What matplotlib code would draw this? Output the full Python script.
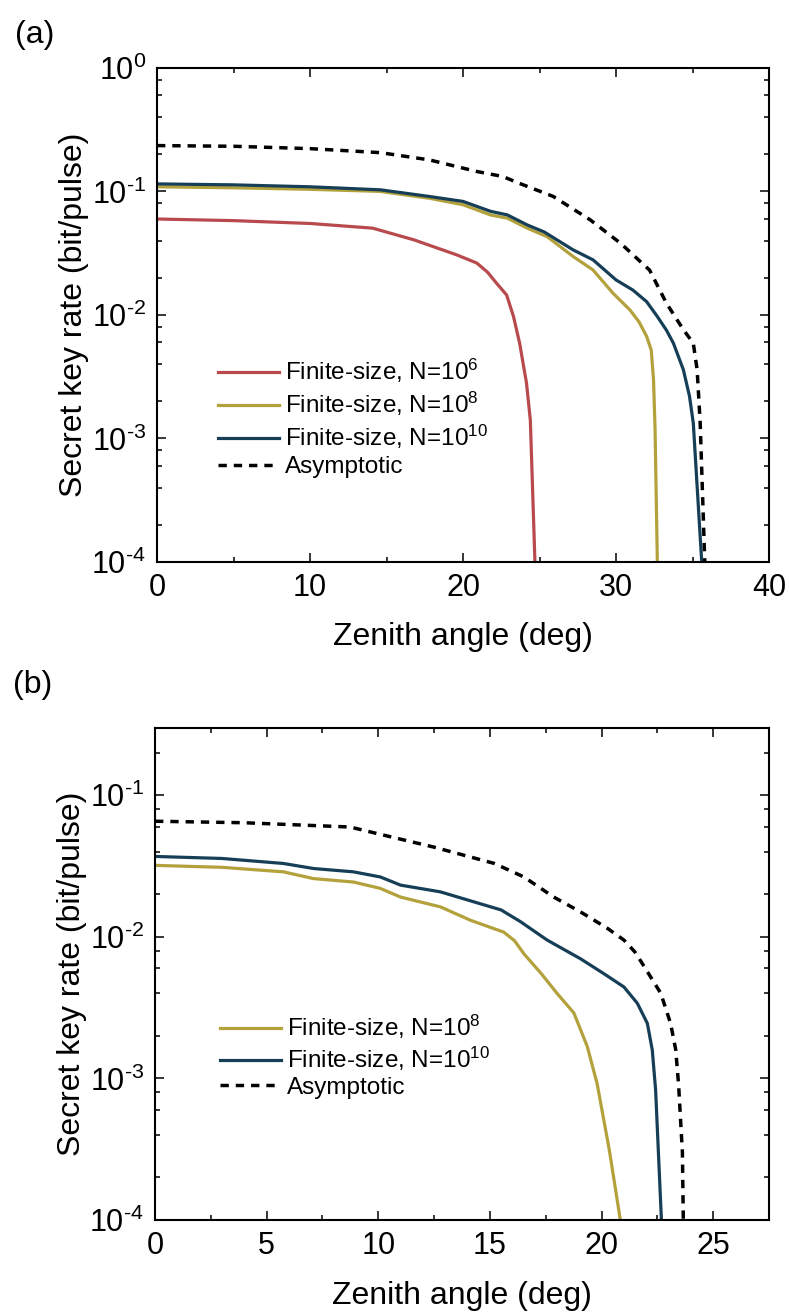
import matplotlib
matplotlib.use("Agg")
import numpy as np
import matplotlib.pyplot as plt
from matplotlib.ticker import LogLocator, MultipleLocator, NullFormatter, FuncFormatter

plt.rcParams['font.family'] = ['Liberation Sans', 'DejaVu Sans']
plt.rcParams['mathtext.fontset'] = 'custom'
plt.rcParams['mathtext.rm'] = 'Liberation Sans'
plt.rcParams['mathtext.it'] = 'Liberation Sans:italic'

# panel (a): key rate vs zenith angle
asym_a_x = [0, 5, 10, 14.6, 17.8, 20.9, 22.6, 23.7, 25.9, 28.3, 30.3, 32.2, 33.3, 34.4, 35.05, 35.3, 35.4, 35.5, 35.8]
asym_a_y = [0.235, 0.232, 0.222, 0.206, 0.18, 0.145, 0.132, 0.116, 0.091, 0.059, 0.038, 0.023, 0.0124, 0.0076,
            0.0059, 0.0036, 0.0022, 0.00133, 1e-4]
n10_a_x = [0, 5, 10, 14.6, 17.8, 20.0, 21.8, 22.9, 24.2, 25.3, 27.2, 28.5, 30.0, 31.1, 32.0, 32.7, 33.3, 33.75,
           34.4, 34.8, 35.05, 35.6]
n10_a_y = [0.115, 0.113, 0.109, 0.103, 0.091, 0.083, 0.069, 0.0645, 0.0535, 0.047, 0.0336, 0.0279, 0.0192, 0.0159,
           0.0128, 0.0097, 0.0075, 0.0059, 0.0036, 0.0022, 0.00133, 1e-4]
n8_a_x = [0, 5, 10, 14.6, 17.8, 20.0, 21.8, 22.9, 24.2, 25.5, 27.2, 28.5, 29.8, 30.9, 31.5, 32.0, 32.3, 32.45, 32.55, 32.7]
n8_a_y = [0.109, 0.107, 0.104, 0.1, 0.088, 0.078, 0.0645, 0.0607, 0.0504, 0.043, 0.0297, 0.0231, 0.015, 0.011,
          0.0088, 0.0067, 0.0052, 0.003, 0.0012, 1e-4]
n6_a_x = [0, 5, 10, 14.1, 16.8, 19.6, 20.9, 21.6, 22.2, 22.85, 23.3, 23.7, 24.15, 24.4, 24.7]
n6_a_y = [0.0598, 0.058, 0.055, 0.0504, 0.0405, 0.0306, 0.0263, 0.0222, 0.018, 0.0145, 0.0097, 0.0059, 0.0028,
          0.0014, 1e-4]

# panel (b)
asym_b_x = [0, 4, 8.74, 9.94, 12.48, 15.2, 16.52, 17.86, 19.06, 20.26, 21.0, 21.5, 21.9, 22.65, 23.09, 23.32, 23.45,
            23.62, 23.66]
asym_b_y = [0.0656, 0.064, 0.0597, 0.0537, 0.0431, 0.033, 0.0265, 0.0191, 0.015, 0.0115, 0.0095, 0.0078, 0.0062,
            0.004, 0.00245, 0.0016, 0.0009, 0.0003, 1e-4]
n10_b_x = [0, 3, 5.75, 7.1, 8.89, 10.09, 11.0, 12.78, 14.27, 15.5, 16.37, 17.56, 19.06, 20.1, 21.0, 21.6, 22.05,
           22.27, 22.42, 22.68]
n10_b_y = [0.037, 0.0358, 0.033, 0.0304, 0.0288, 0.0265, 0.0232, 0.0208, 0.0177, 0.0155, 0.0128, 0.0095, 0.007,
           0.0055, 0.00443, 0.0034, 0.00245, 0.00159, 0.00083, 1e-4]
n8_b_x = [0, 3, 5.75, 7.1, 8.89, 10.09, 11.0, 12.78, 14.13, 15.62, 16.1, 16.52, 17.3, 18.0, 18.76, 19.36, 19.8,
          20.35, 20.84]
n8_b_y = [0.032, 0.031, 0.0288, 0.0258, 0.0244, 0.022, 0.0191, 0.0163, 0.0131, 0.0108, 0.0094, 0.0076, 0.0055,
          0.004, 0.0029, 0.00168, 0.00092, 0.00031, 1e-4]

c_red = '#B84A4E'
c_olive = '#B3A13C'
c_blue = '#163F57'

lab_n6 = r'Finite-size, N=10$^{6}$'
lab_n8 = r'Finite-size, N=10$^{8}$'
lab_n10 = r'Finite-size, N=10$^{10}$'
lab_asym = 'Asymptotic'

fig = plt.figure(figsize=(7.89, 13.16), dpi=100)
ax1 = fig.add_axes([0.199, 0.5730, 0.7757, 0.3754])
ax2 = fig.add_axes([0.1965, 0.0729, 0.7782, 0.3741])

lw = 2.3
dash_kw = dict(color='black', lw=2.5, dashes=(2.4, 2.0))


def pow_label(v, pos):
    e = int(round(np.log10(v)))
    if e < 0:
        return r'$\mathdefault{10^{\text{-}%d}}$' % (-e)
    return r'$\mathdefault{10^{%d}}$' % e


def style(ax, xmax, xmajor, ymax):
    ax.set_yscale('log')
    ax.set_xlim(0, xmax)
    ax.set_ylim(1e-4, ymax)
    ax.xaxis.set_major_locator(MultipleLocator(xmajor))
    ax.xaxis.set_minor_locator(MultipleLocator(xmajor / 2))
    ax.yaxis.set_major_locator(LogLocator(base=10, numticks=10))
    ax.yaxis.set_major_formatter(FuncFormatter(pow_label))
    ax.yaxis.set_minor_locator(LogLocator(base=10, subs=(2, 4, 6, 8), numticks=10))
    ax.yaxis.set_minor_formatter(NullFormatter())
    ax.tick_params(which='both', direction='in', top=True, right=True, width=1.1)
    ax.tick_params(which='major', length=6.5, labelsize=22, pad=8)
    ax.tick_params(which='minor', length=3.5)
    for s in ax.spines.values():
        s.set_linewidth(1.5)
    ax.set_xlabel('Zenith angle (deg)', fontsize=23, labelpad=14)
    ax.set_ylabel('Secret key rate (bit/pulse)', fontsize=23, labelpad=2)


ax1.plot(n6_a_x, n6_a_y, color=c_red, lw=lw, label=lab_n6)
ax1.plot(n8_a_x, n8_a_y, color=c_olive, lw=lw, label=lab_n8)
ax1.plot(n10_a_x, n10_a_y, color=c_blue, lw=lw, label=lab_n10)
ax1.plot(asym_a_x, asym_a_y, label=lab_asym, **dash_kw)
style(ax1, 40, 10, 1.0)
ax1.legend(loc='upper left', bbox_to_anchor=(0.0997, 0.415), frameon=False, fontsize=17.5,
           handlelength=2.5, handletextpad=0.25, labelspacing=0.2, borderpad=0, borderaxespad=0)

ax2.plot(n8_b_x, n8_b_y, color=c_olive, lw=lw, label=lab_n8)
ax2.plot(n10_b_x, n10_b_y, color=c_blue, lw=lw, label=lab_n10)
ax2.plot(asym_b_x, asym_b_y, label=lab_asym, **dash_kw)
style(ax2, 27.5, 5, 0.3)
ax2.legend(loc='upper left', bbox_to_anchor=(0.106, 0.42), frameon=False, fontsize=17.5,
           handlelength=2.5, handletextpad=0.25, labelspacing=0.15, borderpad=0, borderaxespad=0)

fig.text(15 / 789, 1 - 20 / 1316, '(a)', fontsize=23, va='top', ha='left')
fig.text(13 / 789, 1 - 670 / 1316, '(b)', fontsize=23, va='top', ha='left')

fig.savefig('out.png', dpi=100)
